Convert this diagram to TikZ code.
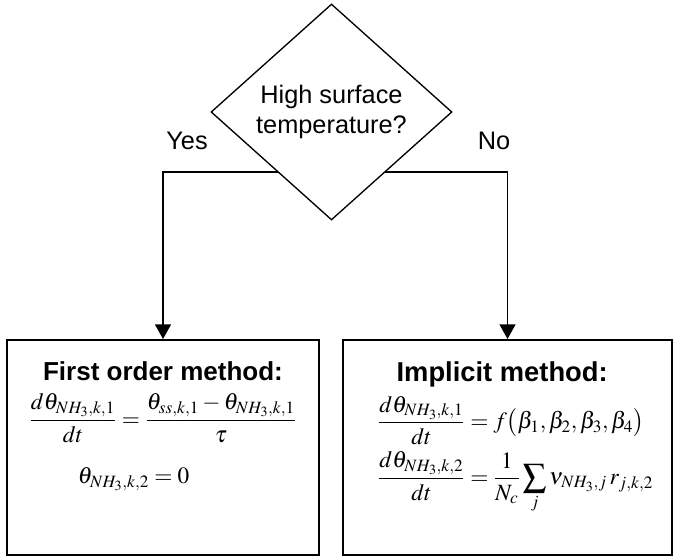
\documentclass[tikz,border=0pt]{standalone}
\usepackage{amsmath}
\usepackage{mathptmx}
\usepackage[no-math]{fontspec}
\setmainfont{Liberation Sans}
\usetikzlibrary{shapes.geometric,arrows.meta,positioning}

\tikzset{
  decision/.style={draw, diamond, line width=1pt, fill=white, inner sep=0pt,
    minimum width=180.75pt, minimum height=162pt, aspect=1.1, align=center,
    font=\fontsize{19}{22.5}\selectfont},
  methodbox/.style={draw, line width=1.5pt, minimum height=161.25pt},
  boxhead/.style={inner sep=0pt, font=\fontsize{19.5}{22}\selectfont\bfseries},
  boxeq/.style={inner sep=0pt, font=\fontsize{17.5}{20}\selectfont},
  lbl/.style={inner sep=0pt, font=\fontsize{19}{22.5}\selectfont},
  arr/.style={line width=1.1pt, -{Triangle[length=11pt,width=12pt]}},
}

\begin{document}
\begin{tikzpicture}[x=0.75pt,y=-0.75pt]
\useasboundingbox (0,0) rectangle (674,559);

% the two methods
\node[methodbox, minimum width=234pt] (first) at (163,447.5) {};
\node[methodbox, minimum width=246.75pt] (implicit) at (507.5,447.5) {};

\node[boxhead, below=17pt of first.north] (firsthead) {First order method:};
\node[boxeq, below=9pt of firsthead] (firsteq) {%
  $\displaystyle\frac{d\theta_{NH_3,k,1}}{dt}=\frac{\theta_{ss,k,1}-\theta_{NH_3,k,1}}{\tau}$};
\node[boxeq, below=18pt of firsteq, xshift=-22pt] (firstzero) {$\theta_{NH_3,k,2}=0$};

\node[boxhead, below=17pt of implicit.north, xshift=-4pt, font=\fontsize{20.5}{22}\selectfont\bfseries] (implicithead) {Implicit method:};
\node[boxeq, below=6pt of implicithead, xshift=10pt] (impliciteq) {%
  $\displaystyle\begin{aligned}
  \frac{d\theta_{NH_3,k,1}}{dt} &= f\bigl(\beta_1,\beta_2,\beta_3,\beta_4\bigr)\\[1pt]
  \frac{d\theta_{NH_3,k,2}}{dt} &= \frac{1}{N_c}\sum_j \nu_{NH_3,j}\,r_{j,k,2}
  \end{aligned}$};

% branches, drawn under the diamond
\coordinate (split) at (331.5,172);
\draw[arr] (split) -| (first.north);
\draw[arr] (split) -| (implicit.north);

\node[decision] (dec) at (331.5,112) {High surface\\temperature?};

\node[lbl] (yes) at (187,141) {Yes};
\node[lbl] (no) at (494,141) {No};
\end{tikzpicture}
\end{document}
